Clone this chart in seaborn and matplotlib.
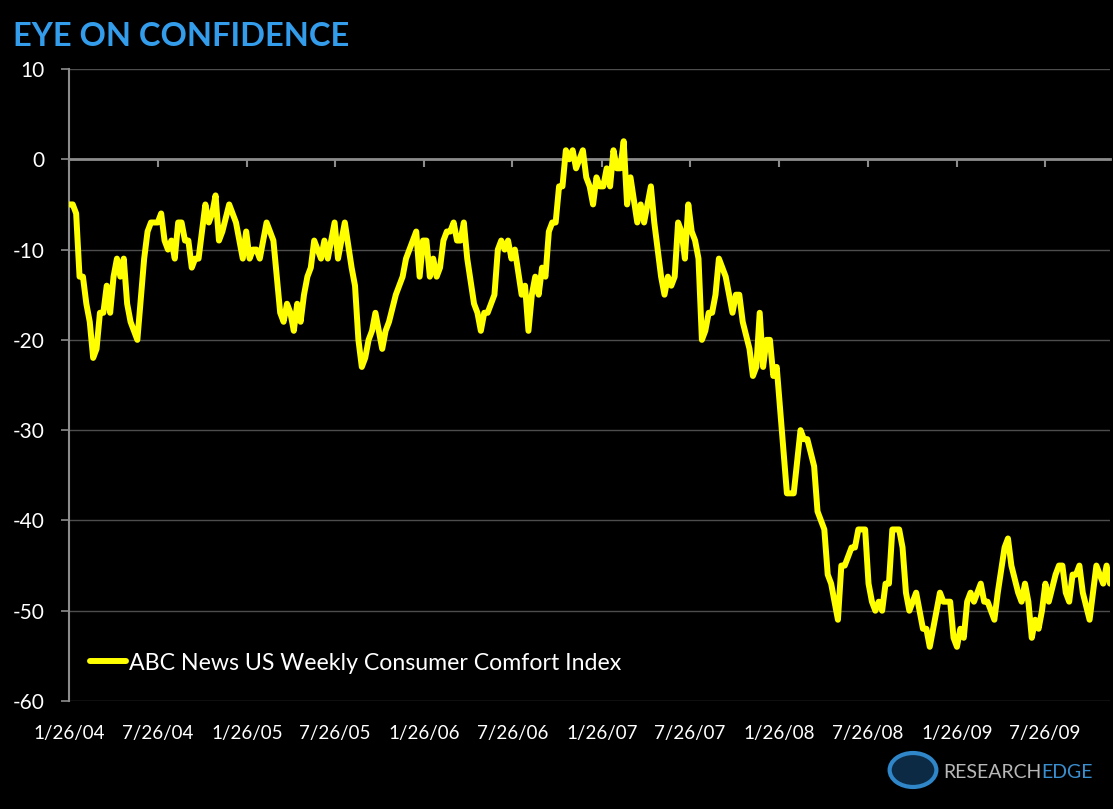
import numpy as np
import pandas as pd
import matplotlib
matplotlib.use("Agg")
import matplotlib.pyplot as plt
import matplotlib.dates as mdates
from matplotlib.patches import Circle
import seaborn as sns

# ---------------- data ----------------
START = "2004-01-26"
TITLE = "EYE ON CONFIDENCE"
SERIES_NAME = "ABC News US Weekly Consumer Comfort Index"

# weeks after 1/26/04 at which the line turns, and the index value there
WEEK = [0, 1, 2, 3, 4, 5, 6, 7, 8, 9, 10, 11, 12, 13, 14, 15, 16, 17, 18, 20,
        22, 23, 24, 26, 27, 28, 29, 30, 31, 32, 33, 34, 35, 36, 37, 38, 40, 41, 42, 43,
        44, 45, 47, 49, 50, 51, 52, 53, 54, 55, 56, 58, 59, 60, 62, 63, 64, 65, 66, 67,
        68, 69, 70, 71, 72, 73, 74, 75, 76, 78, 79, 81, 83, 84, 85, 86, 87, 88, 89, 90,
        92, 93, 94, 96, 98, 99, 100, 101, 102, 103, 104, 105, 106, 107, 108, 109, 110, 111, 112, 113,
        114, 115, 116, 117, 119, 120, 121, 122, 123, 125, 126, 127, 128, 129, 130, 131, 133, 134, 135, 136,
        137, 138, 139, 140, 141, 142, 143, 144, 145, 146, 147, 148, 149, 150, 151, 152, 153, 154, 155, 156,
        157, 158, 159, 160, 161, 162, 163, 164, 165, 167, 168, 169, 171, 172, 173, 174, 175, 176, 177, 178,
        179, 180, 181, 182, 183, 184, 185, 186, 187, 188, 189, 190, 191, 192, 193, 195, 196, 197, 198, 200,
        201, 202, 203, 204, 205, 206, 207, 208, 211, 213, 215, 216, 217, 219, 220, 222, 223, 224, 226, 227,
        228, 229, 230, 231, 232, 234, 235, 236, 237, 238, 239, 240, 241, 242, 244, 245, 246, 247, 249, 251,
        252, 253, 254, 256, 257, 259, 260, 261, 262, 263, 264, 265, 266, 267, 268, 269, 270, 272, 273, 275,
        276, 277, 279, 280, 281, 282, 283, 284, 285, 286, 287, 288, 290, 291, 292, 293, 294, 295, 296, 297,
        298, 300, 302, 304, 305, 306]

INDEX = [-5, -5, -6, -13, -13, -16, -18, -22, -21, -17, -17, -14, -17, -13, -11, -13, -11, -16, -18, -20,
         -11, -8, -7, -7, -6, -9, -10, -9, -11, -7, -7, -9, -9, -12, -11, -11, -5, -7, -6, -4,
         -9, -8, -5, -7, -9, -11, -8, -11, -10, -10, -11, -7, -8, -9, -17, -18, -16, -17, -19, -16,
         -18, -15, -13, -12, -9, -10, -11, -9, -11, -7, -11, -7, -12, -14, -20, -23, -22, -20, -19, -17,
         -21, -19, -18, -15, -13, -11, -10, -9, -8, -13, -9, -9, -13, -11, -13, -12, -9, -8, -8, -7,
         -9, -9, -7, -11, -16, -17, -19, -17, -17, -15, -10, -9, -10, -9, -11, -10, -15, -14, -19, -15,
         -13, -15, -12, -13, -8, -7, -7, -3, -3, 1, 0, 1, -1, 0, 1, -2, -3, -5, -2, -3,
         -3, -1, -3, 1, -1, -1, 2, -5, -2, -7, -5, -7, -3, -7, -10, -13, -15, -13, -14, -13,
         -7, -8, -11, -5, -8, -9, -11, -20, -19, -17, -17, -15, -11, -12, -13, -17, -15, -15, -18, -21,
         -24, -23, -17, -23, -20, -20, -24, -23, -37, -37, -30, -31, -31, -34, -39, -41, -46, -47, -51, -45,
         -45, -44, -43, -43, -41, -41, -47, -49, -50, -49, -50, -47, -47, -41, -41, -43, -48, -50, -48, -52,
         -52, -54, -52, -48, -49, -49, -53, -54, -52, -53, -49, -48, -49, -48, -47, -49, -49, -51, -48, -43,
         -42, -45, -48, -49, -47, -49, -53, -51, -52, -50, -47, -49, -46, -45, -45, -48, -49, -46, -46, -45,
         -48, -51, -45, -47, -45, -47]

TICK_LABELS = ["1/26/04", "7/26/04", "1/26/05", "7/26/05", "1/26/06", "7/26/06",
               "1/26/07", "7/26/07", "1/26/08", "7/26/08", "1/26/09", "7/26/09"]
Y_TICKS = [-60, -50, -40, -30, -20, -10, 0, 10]

# ---------------- styling ----------------
sns.set_style("dark", {"axes.facecolor": "black", "figure.facecolor": "black"})
plt.rcParams["font.family"] = ["Lato", "DejaVu Sans"]

YELLOW = "#FFFF00"
BLUE = "#339CEB"
GRID = "#4d4d4d"
AXIS = "#8c8c8c"
LW = 4.3

dates = pd.Timestamp(START) + pd.to_timedelta(np.array(WEEK) * 7, unit="D")
df = pd.DataFrame({"date": dates, "value": INDEX, "series": SERIES_NAME})

fig = plt.figure(figsize=(11.13, 8.09), dpi=100, facecolor="black")
ax = fig.add_axes([0.0623, 0.1335, 0.9350, 0.7812])
ax.set_facecolor("black")

sns.lineplot(data=df, x="date", y="value", hue="series", palette=[YELLOW],
             linewidth=LW, ax=ax, zorder=3)
for ln in ax.get_lines():
    ln.set_solid_joinstyle("round")
    ln.set_solid_capstyle("round")

ax.set_ylim(Y_TICKS[0], Y_TICKS[-1])
ax.set_xlim(pd.Timestamp(START), dates[-1])
ax.set_yticks(Y_TICKS)
ax.set_yticklabels([str(v) for v in Y_TICKS])
ax.set_xlabel("")
ax.set_ylabel("")

ax.grid(False)
ax.yaxis.grid(True, color=GRID, linewidth=1.0, zorder=0)

tick_nums = mdates.date2num(pd.to_datetime(TICK_LABELS, format="%m/%d/%y"))
ax.set_xticks(tick_nums)
ax.tick_params(axis="x", bottom=True, length=6, width=1.5, color=AXIS, direction="out",
               labelbottom=False)
ax.tick_params(axis="y", left=True, length=6, width=1.2, color=AXIS, direction="out",
               labelcolor="white", labelsize=15, pad=12)

for s in ["top", "right"]:
    ax.spines[s].set_visible(False)
ax.spines["left"].set_color(AXIS)
ax.spines["left"].set_linewidth(1.5)
ax.spines["bottom"].set_position(("data", 0))
ax.spines["bottom"].set_color(AXIS)
ax.spines["bottom"].set_linewidth(2.0)
ax.spines["bottom"].set_zorder(2)

sec = ax.secondary_xaxis("bottom")
sec.set_xticks(tick_nums)
sec.set_xticklabels(TICK_LABELS)
sec.tick_params(bottom=False, length=0, pad=17, labelcolor="white", labelsize=13.5)
sec.spines["bottom"].set_visible(False)

leg = ax.legend(loc="center left", bbox_to_anchor=(0.0199, 0.06), frameon=False,
                borderaxespad=0, borderpad=0,
                handlelength=1.55, handletextpad=0.15, fontsize=16.7,
                labelcolor="white")
for line in leg.get_lines():
    line.set_linewidth(LW)

fig.text(0.012, 1 - 37 / 809, TITLE, color=BLUE, fontsize=23.5, fontweight="bold",
         va="center", ha="left")

# logo
fig.patches.append(Circle((913 / 1113, 1 - 770 / 809), 0.021, transform=fig.transFigure,
                          facecolor="#0d2a44", edgecolor="#2f86c8", linewidth=3))
t1 = fig.text(943 / 1113, 1 - 773 / 809, "RESEARCH", color="#b8b8b8", fontsize=14,
              va="center", ha="left")
fig.canvas.draw()
bb = t1.get_window_extent()
fig.text(bb.x1 / fig.bbox.width, 1 - 773 / 809, "EDGE", color="#3a8fd0", fontsize=14,
         va="center", ha="left")

fig.savefig("out.png", dpi=100, facecolor="black")
